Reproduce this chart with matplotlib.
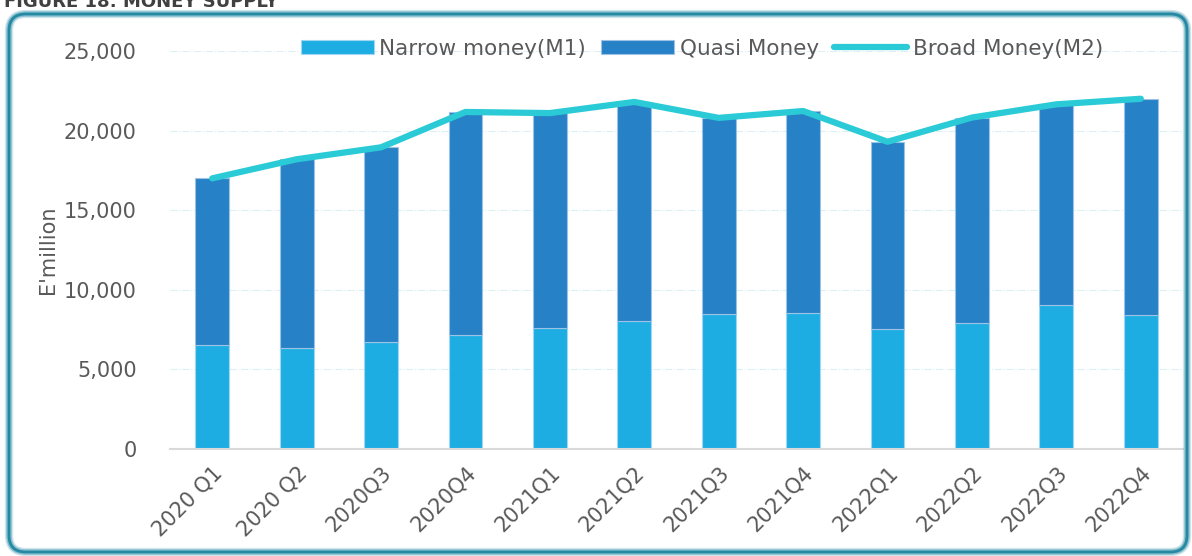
import matplotlib.pyplot as plt
from matplotlib.patches import FancyBboxPatch
from matplotlib.ticker import FuncFormatter
import numpy as np

# quarterly money supply, E'million
quarters = ['2020 Q1', '2020 Q2', '2020Q3', '2020Q4', '2021Q1', '2021Q2',
            '2021Q3', '2021Q4', '2022Q1', '2022Q2', '2022Q3', '2022Q4']
narrow_m1 = [6530, 6340, 6720, 7160, 7600, 8040, 8480, 8540, 7540, 7910, 9050, 8420]
broad_m2 = [17000, 18200, 18950, 21170, 21100, 21800, 20800, 21230, 19300, 20820, 21650, 22000]
quasi = [b - n for b, n in zip(broad_m2, narrow_m1)]

c_m1 = '#1EADE3'
c_quasi = '#2781C6'
c_m2 = '#2ACBD6'
grey = '#595959'

plt.rcParams['font.family'] = ['DejaVu Sans']

fig = plt.figure(figsize=(11.92, 5.56), dpi=100)

# rounded frame with teal glow
for lw, a in [(6, 0.2), (4, 0.4), (2, 0.9)]:
    box = FancyBboxPatch((9 / 1192, 4 / 556), 1178 / 1192, 538 / 556,
                         boxstyle='round,pad=0,rounding_size=0.014',
                         transform=fig.transFigure, facecolor='none',
                         edgecolor='#1C84A0', linewidth=lw, alpha=a,
                         mutation_aspect=1192 / 556)
    fig.patches.append(box)

fig.text(0.003, 1 - 7 / 556, 'FIGURE 18: MONEY SUPPLY', fontsize=13,
         fontweight='bold', color='#404040', va='baseline', ha='left')

ax = fig.add_axes([170 / 1192, 1 - 449 / 556, 1013 / 1192, 398 / 556])
x = np.arange(len(quarters))

b1 = ax.bar(x, narrow_m1, width=0.4, color=c_m1, edgecolor='#9FD7F0', linewidth=0.8,
            label='Narrow money(M1)', zorder=2)
b2 = ax.bar(x, quasi, width=0.4, bottom=narrow_m1, color=c_quasi, edgecolor='#9CC3E6',
            linewidth=0.8, label='Quasi Money', zorder=2)
ln, = ax.plot(x, broad_m2, color=c_m2, linewidth=4.5, solid_capstyle='round',
              label='Broad Money(M2)', zorder=3)

ax.set_xlim(-0.5, 11.5)
ax.set_ylim(0, 25000)
ax.set_yticks(range(0, 25001, 5000))
ax.yaxis.set_major_formatter(FuncFormatter(lambda v, p: f'{int(v):,}'))
ax.grid(axis='y', color='#DCEFF4', linestyle='-.', linewidth=0.8, zorder=0)

for s in ['top', 'right', 'left']:
    ax.spines[s].set_visible(False)
ax.spines['bottom'].set_color('#D9D9D9')
ax.spines['bottom'].set_linewidth(1.5)

ax.set_xticks(x)
ax.set_xticklabels(quarters, rotation=45, ha='right', rotation_mode='anchor',
                   fontsize=15, color=grey)
ax.tick_params(axis='x', length=0, pad=10)
ax.tick_params(axis='y', length=0, pad=24, labelsize=15, labelcolor=grey)

ax.set_ylabel("E'million", fontsize=15, color=grey, labelpad=4)

ax.legend([b1, b2, ln], ['Narrow money(M1)', 'Quasi Money', 'Broad Money(M2)'],
          loc='upper center', bbox_to_anchor=(0.525, 1.08), ncol=3, frameon=False,
          fontsize=15.5, labelcolor=grey, handlelength=3.4, handleheight=0.6,
          columnspacing=0.7, handletextpad=0.25)

fig.savefig('out.png', dpi=100)
